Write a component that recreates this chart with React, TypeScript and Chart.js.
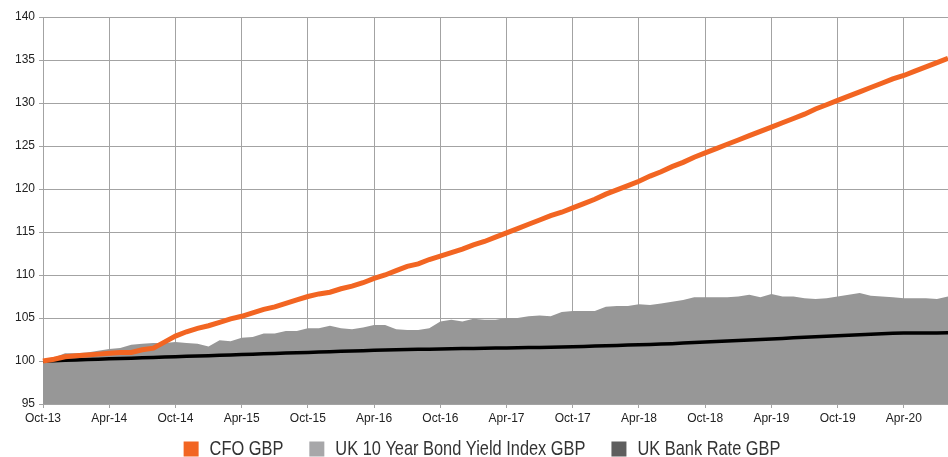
import React, { useEffect, useRef } from "react";
import { Chart, registerables } from "chart.js";

Chart.register(...registerables);

const months: string[] = [
  "Oct-13","Nov-13","Dec-13",
  "Jan-14","Feb-14","Mar-14","Apr-14","May-14","Jun-14","Jul-14","Aug-14","Sep-14","Oct-14","Nov-14","Dec-14",
  "Jan-15","Feb-15","Mar-15","Apr-15","May-15","Jun-15","Jul-15","Aug-15","Sep-15","Oct-15","Nov-15","Dec-15",
  "Jan-16","Feb-16","Mar-16","Apr-16","May-16","Jun-16","Jul-16","Aug-16","Sep-16","Oct-16","Nov-16","Dec-16",
  "Jan-17","Feb-17","Mar-17","Apr-17","May-17","Jun-17","Jul-17","Aug-17","Sep-17","Oct-17","Nov-17","Dec-17",
  "Jan-18","Feb-18","Mar-18","Apr-18","May-18","Jun-18","Jul-18","Aug-18","Sep-18","Oct-18","Nov-18","Dec-18",
  "Jan-19","Feb-19","Mar-19","Apr-19","May-19","Jun-19","Jul-19","Aug-19","Sep-19","Oct-19","Nov-19","Dec-19",
  "Jan-20","Feb-20","Mar-20","Apr-20","May-20","Jun-20","Jul-20","Aug-20",
];

const cfoGBP: number[] = [
  100.0, 100.2, 100.5,
  100.6, 100.7, 100.8, 100.9, 101.0, 101.0, 101.3, 101.5, 102.2, 102.9, 103.4, 103.8,
  104.1, 104.5, 104.9, 105.2, 105.6, 106.0, 106.3, 106.7, 107.1, 107.5, 107.8, 108.0,
  108.4, 108.7, 109.1, 109.6, 110.0, 110.5, 111.0, 111.3, 111.8, 112.2, 112.6, 113.0,
  113.5, 113.9, 114.4, 114.9, 115.4, 115.9, 116.4, 116.9, 117.3, 117.8, 118.3, 118.8,
  119.4, 119.9, 120.4, 120.9, 121.5, 122.0, 122.6, 123.1, 123.7, 124.2, 124.7, 125.2,
  125.7, 126.2, 126.7, 127.2, 127.7, 128.2, 128.7, 129.3, 129.8, 130.3, 130.8, 131.3,
  131.8, 132.3, 132.8, 133.2, 133.7, 134.2, 134.7, 135.2,
];

const uk10YearBond: number[] = [
  100.0, 100.4, 100.9,
  100.9, 101.0, 101.2, 101.4, 101.5, 101.9, 102.0, 102.1, 102.1, 102.2, 102.1, 102.0,
  101.7, 102.4, 102.3, 102.7, 102.8, 103.2, 103.2, 103.5, 103.5, 103.8, 103.8, 104.1,
  103.8, 103.7, 103.9, 104.2, 104.2, 103.7, 103.6, 103.6, 103.8, 104.6, 104.8, 104.6,
  104.9, 104.8, 104.8, 105.0, 105.0, 105.2, 105.3, 105.2, 105.7, 105.8, 105.8, 105.8,
  106.3, 106.4, 106.4, 106.6, 106.5, 106.7, 106.9, 107.1, 107.4, 107.4, 107.4, 107.4,
  107.5, 107.7, 107.4, 107.8, 107.5, 107.5, 107.3, 107.2, 107.3, 107.5, 107.7, 107.9,
  107.6, 107.5, 107.4, 107.3, 107.3, 107.3, 107.2, 107.5,
];

const ukBankRate: number[] = [
  100.00, 100.04, 100.08,
  100.12, 100.17, 100.21, 100.25, 100.29, 100.33, 100.37, 100.42, 100.46, 100.50, 100.54, 100.58,
  100.62, 100.67, 100.71, 100.75, 100.79, 100.83, 100.87, 100.92, 100.96, 101.00, 101.04, 101.08,
  101.12, 101.16, 101.20, 101.24, 101.28, 101.32, 101.35, 101.36, 101.38, 101.40, 101.42, 101.44,
  101.46, 101.48, 101.50, 101.52, 101.54, 101.56, 101.58, 101.60, 101.62, 101.65, 101.69, 101.73,
  101.77, 101.81, 101.85, 101.89, 101.93, 101.97, 102.02, 102.08, 102.14, 102.20, 102.26, 102.33,
  102.39, 102.45, 102.51, 102.57, 102.63, 102.69, 102.75, 102.81, 102.87, 102.93, 102.99, 103.05,
  103.11, 103.17, 103.23, 103.25, 103.26, 103.26, 103.27, 103.28,
];

const seriesNames: string[] = ["CFO GBP", "UK 10 Year Bond Yield Index GBP", "UK Bank Rate GBP"];
const legendColors: string[] = ["#f26522", "#a7a7a9", "#5e5e5e"];

const GRID = "#a3a3a3";
const TICK_FONT = { family: "'Liberation Sans', Arial, sans-serif", size: 12 };

// Custom condensed legend drawn under the plot
const condensedLegend = {
  id: "condensedLegend",
  afterDraw(chart: any) {
    const ctx: CanvasRenderingContext2D = chart.ctx;
    const box = 15;
    const boxGap = 11;
    const itemGap = 26;
    const sx = 0.78;
    const centerY = 448;
    ctx.save();
    ctx.font = "21px 'Liberation Sans', Arial, sans-serif";
    ctx.textBaseline = "middle";
    const widths = seriesNames.map((t) => ctx.measureText(t).width * sx);
    const total =
      widths.reduce((a, b) => a + b, 0) + seriesNames.length * (box + boxGap) + (seriesNames.length - 1) * itemGap;
    let x = chart.width / 2 + 8 - total / 2;
    seriesNames.forEach((name, i) => {
      ctx.fillStyle = legendColors[i];
      ctx.fillRect(x, centerY - 6.5, box, box);
      x += box + boxGap;
      ctx.save();
      ctx.translate(x, centerY + 1);
      ctx.scale(sx, 1);
      ctx.fillStyle = "#333333";
      ctx.fillText(name, 0, 0);
      ctx.restore();
      x += widths[i] + itemGap;
    });
    ctx.restore();
  },
};

export default function App() {
  const canvasRef = useRef<HTMLCanvasElement | null>(null);

  useEffect(() => {
    document.body.style.margin = "0";
    if (!canvasRef.current) return;
    const chart = new Chart(canvasRef.current, {
      type: "line",
      data: {
        labels: months,
        datasets: [
          {
            label: seriesNames[0],
            data: cfoGBP,
            borderColor: "#f26522",
            backgroundColor: "#f26522",
            borderWidth: 5,
            pointRadius: 0,
            tension: 0,
            fill: false,
            order: 0,
          },
          {
            label: seriesNames[1],
            data: uk10YearBond,
            borderColor: "#979797",
            backgroundColor: "#979797",
            borderWidth: 0,
            pointRadius: 0,
            tension: 0,
            fill: "start",
            order: 2,
          },
          {
            label: seriesNames[2],
            data: ukBankRate,
            borderColor: "#000000",
            backgroundColor: "#000000",
            borderWidth: 3.5,
            pointRadius: 0,
            tension: 0,
            fill: false,
            order: 1,
          },
        ],
      },
      options: {
        animation: false,
        responsive: true,
        maintainAspectRatio: false,
        layout: { padding: { top: 17, right: 0, left: 0, bottom: 27 } },
        plugins: {
          tooltip: { enabled: false },
          legend: { display: false },
        },
        scales: {
          x: {
            type: "category",
            offset: false,
            grid: {
              color: GRID,
              lineWidth: 1,
              tickLength: 4,
              drawTicks: true,
            },
            border: { color: GRID },
            ticks: {
              autoSkip: false,
              maxRotation: 0,
              minRotation: 0,
              padding: 3,
              color: "#222",
              font: TICK_FONT,
              callback: (_v: any, index: number) => (index % 6 === 0 ? months[index] : null),
            },
            afterFit: (scale: any) => {
              scale.height = 26;
            },
          },
          y: {
            min: 95,
            max: 140,
            grid: { color: GRID, lineWidth: 1, tickLength: 4 },
            border: { color: GRID },
            ticks: {
              stepSize: 5,
              padding: 4,
              color: "#222",
              font: TICK_FONT,
            },
            afterFit: (scale: any) => {
              scale.width = 43;
            },
          },
        },
      },
      plugins: [condensedLegend],
    });
    return () => chart.destroy();
  }, []);

  return (
    <div style={{ position: "relative", width: 948, height: 457 }}>
      <canvas ref={canvasRef} />
    </div>
  );
}
